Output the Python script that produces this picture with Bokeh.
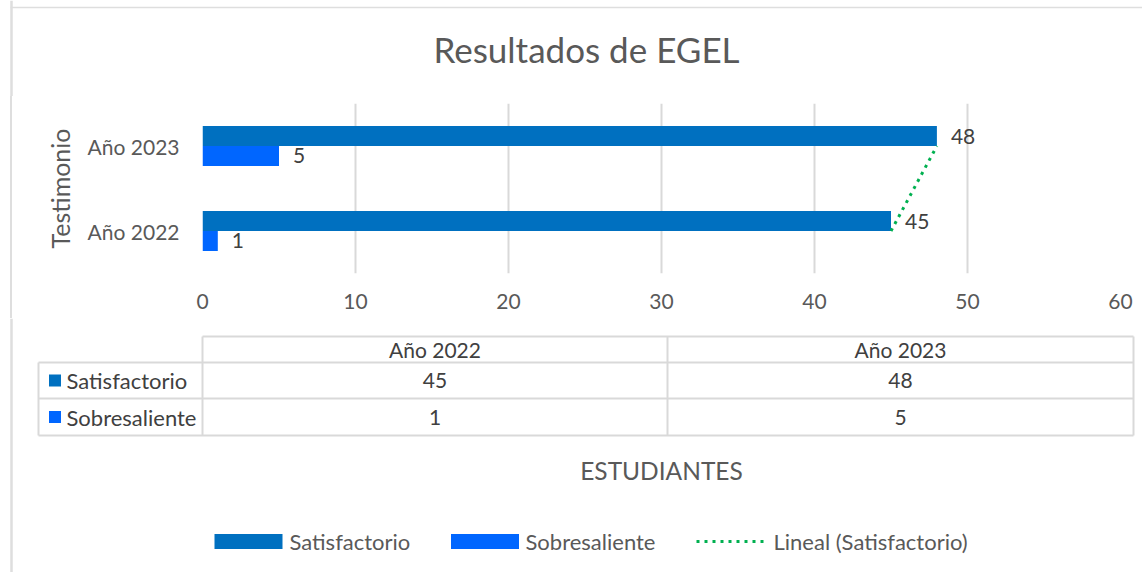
from bokeh.plotting import figure
from bokeh.models import ColumnDataSource, Range1d, FactorRange
from bokeh.transform import dodge
from bokeh.embed import file_html
from bokeh.resources import INLINE
from bokeh.core.properties import value

# ---------------- data ----------------
title_text = "Resultados de EGEL"
categories = ["Año 2022", "Año 2023"]
satisfactorio = [45, 48]
sobresaliente = [1, 5]
series_names = ["Satisfactorio", "Sobresaliente"]
trend_name = "Lineal (Satisfactorio)"
x_ticks = [0, 10, 20, 30, 40, 50, 60]
y_axis_title = "Testimonio"
x_axis_title = "ESTUDIANTES"

# ---------------- style ----------------
C_SAT = "#0070C0"
C_SOB = "#0066FF"
C_TREND = "#00B050"
TXT = "#595959"
DARK = "#404040"
GRID = "#D9D9D9"
BORDER = "#DEDEDE"
FONT = "Lato"
W = 1142
BX = 11  # left border line x

def blank_fig(h, y0, y1):
    f = figure(width=W, height=h, x_range=Range1d(0, W), y_range=Range1d(y1, y0),
               output_backend="svg", toolbar_location=None,
               x_axis_location=None, y_axis_location=None, min_border=0)
    f.grid.visible = False
    f.outline_line_color = None
    f.background_fill_color = "white"
    f.border_fill_color = "white"
    f.segment(x0=[BX], y0=[y0], x1=[BX], y1=[y1], line_color=BORDER, line_width=2.5)
    return f

# ---------------- title ----------------
pt = blank_fig(96, 0, 96)
pt.segment(x0=[BX - 1], y0=[7], x1=[W], y1=[7], line_color=BORDER, line_width=1.5)
pt.text(x=[586], y=[48], text=[title_text], text_align="center", text_baseline="middle",
        text_font=value(FONT), text_font_size="35px", text_color=TXT)

# ---------------- chart ----------------
src = ColumnDataSource(dict(
    cat=categories, sat=satisfactorio, sob=sobresaliente,
    sat_lbl=[str(v) for v in satisfactorio], sob_lbl=[str(v) for v in sobresaliente]))

CH = 222
p = figure(width=W, height=CH,
           y_range=FactorRange(factors=categories, range_padding=0),
           x_range=Range1d(0, 60),
           output_backend="svg", toolbar_location=None,
           min_border_left=202, min_border_right=22, min_border_top=7, min_border_bottom=45)
p.outline_line_color = None
p.background_fill_color = "white"
p.border_fill_color = None
p.styles = {"background": "linear-gradient(to right, white 0px, white %.2fpx, %s %.2fpx, %s %.2fpx, white %.2fpx, white 100%%)"
            % (BX - 1.25, BORDER, BX - 1.25, BORDER, BX + 1.25, BX + 1.25)}

BH = 0.235
OFF = 0.1176
p.hbar(y=dodge("cat", OFF, range=p.y_range), left=0, right="sat", height=BH,
       source=src, fill_color=C_SAT, line_color=None)
p.hbar(y=dodge("cat", -OFF, range=p.y_range), left=0, right="sob", height=BH,
       source=src, fill_color=C_SOB, line_color=None)

p.line(x=satisfactorio, y=categories, line_color=C_TREND, line_width=3, line_dash="3 5")

p.text(x="sat", y=dodge("cat", OFF, range=p.y_range), text="sat_lbl", source=src,
       x_offset=14, text_align="left", text_baseline="middle",
       text_font=value(FONT), text_font_size="21px", text_color=DARK)
p.text(x="sob", y=dodge("cat", -OFF, range=p.y_range), text="sob_lbl", source=src,
       x_offset=14, text_align="left", text_baseline="middle",
       text_font=value(FONT), text_font_size="21px", text_color=DARK)

p.ygrid.grid_line_color = None
p.xgrid.grid_line_color = GRID
p.xgrid.grid_line_width = 2
p.xaxis.ticker = x_ticks
for ax in (p.xaxis, p.yaxis):
    ax.axis_line_color = None
    ax.major_tick_line_color = None
    ax.minor_tick_line_color = None
    ax.major_label_text_font = FONT
    ax.major_label_text_font_size = "21px"
    ax.major_label_text_color = TXT
p.xaxis.major_label_standoff = 14
p.yaxis.major_label_standoff = 17
p.yaxis.axis_label = y_axis_title
p.yaxis.axis_label_text_font = FONT
p.yaxis.axis_label_text_font_size = "25px"
p.yaxis.axis_label_text_font_style = "normal"
p.yaxis.axis_label_text_color = TXT
p.yaxis.axis_label_standoff = 10

# ---------------- data table + axis title + legend ----------------
Y0 = 96 + CH
pb = blank_fig(572 - Y0, Y0, 572)

x_left, x_lab, x_mid, x_right = 38, 202, 667, 1133
y_top, y_head, y_r1, y_bot = 336, 362, 398, 435
seg_x0 = [x_lab, x_left, x_left, x_left, x_left, x_lab, x_mid, x_right]
seg_x1 = [x_right, x_right, x_right, x_right, x_left, x_lab, x_mid, x_right]
seg_y0 = [y_top, y_head, y_r1, y_bot, y_head, y_top, y_top, y_top]
seg_y1 = [y_top, y_head, y_r1, y_bot, y_bot, y_bot, y_bot, y_bot]
pb.segment(x0=seg_x0, y0=seg_y0, x1=seg_x1, y1=seg_y1, line_color=GRID, line_width=2)

col_cx = [(x_lab + x_mid) / 2, (x_mid + x_right) / 2]
row_cy = [(y_head + y_r1) / 2, (y_r1 + y_bot) / 2]
head_cy = (y_top + y_head) / 2

pb.text(x=col_cx, y=[head_cy] * 2, text=categories, text_align="center", text_baseline="middle",
        text_font=value(FONT), text_font_size="21px", text_color=DARK)
pb.text(x=col_cx, y=[row_cy[0]] * 2, text=[str(v) for v in satisfactorio], text_align="center",
        text_baseline="middle", text_font=value(FONT), text_font_size="21px", text_color=DARK)
pb.text(x=col_cx, y=[row_cy[1]] * 2, text=[str(v) for v in sobresaliente], text_align="center",
        text_baseline="middle", text_font=value(FONT), text_font_size="21px", text_color=DARK)
pb.rect(x=[54.5, 54.5], y=row_cy, width=12, height=12, fill_color=[C_SAT, C_SOB], line_color=None)
pb.text(x=[66, 66], y=row_cy, text=series_names, text_align="left", text_baseline="middle",
        text_font=value(FONT), text_font_size="22px", text_color=DARK)

# axis title
pb.text(x=[661], y=[470], text=[x_axis_title], text_align="center", text_baseline="middle",
        text_font=value(FONT), text_font_size="24.5px", text_color=TXT)

# legend
ly = 541
pb.rect(x=[248, 484.5], y=[ly, ly], width=68, height=15, fill_color=[C_SAT, C_SOB], line_color=None)
pb.line(x=[696, 765], y=[ly, ly], line_color=C_TREND, line_width=3, line_dash="3 5")
pb.text(x=[289, 525, 773], y=[ly] * 3, text=series_names + [trend_name], text_align="left",
        text_baseline="middle", text_font=value(FONT), text_font_size="22px", text_color=TXT)

with open("out.html", "w") as fh:
    fh.write(file_html([pt, p, pb], INLINE, title="Resultados de EGEL"))
